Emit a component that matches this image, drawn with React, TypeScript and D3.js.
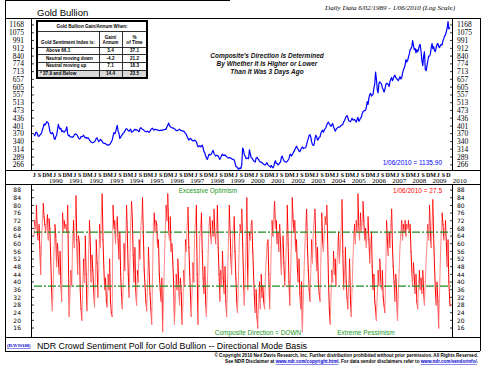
import * as d3 from 'd3'
import React from 'react'

// semi-monthly readings (1st and 16th of each month), Jun 1989 .. Jan 2010
const goldPrice = [
  368, 362, 372, 376, 370, 360, 360, 364, 368, 372, 385, 396, 410, 405,
  410, 420, 418, 414, 400, 380, 372, 370, 375, 368, 352, 348, 358, 364, 385, 408, 395, 388, 392, 378, 382, 378, 376, 380,
  385, 398, 370, 362, 364, 358, 357, 358, 356, 358, 366, 368, 369, 366, 360, 354, 350, 352, 359, 358, 360, 364, 358, 354,
  356, 352, 354, 352, 346, 342, 338, 337, 336, 338, 340, 344, 352, 354, 346, 340, 344, 348, 345, 342, 336, 334, 334, 333,
  330, 328, 329, 328, 330, 334, 340, 346, 360, 374, 370, 376, 390, 404, 380, 372, 352, 356, 362, 366, 372, 374, 380, 388,
  390, 386, 382, 380, 384, 388, 376, 378, 380, 384, 388, 384, 386, 384, 380, 378, 390, 394, 390, 388, 386, 382, 380, 378,
  378, 380, 376, 376, 380, 386, 390, 392, 386, 384, 388, 386, 386, 384, 384, 382, 383, 384, 383, 384, 386, 386, 388, 387,
  398, 404, 414, 404, 398, 396, 394, 392, 392, 390, 386, 382, 382, 384, 386, 388, 384, 382, 382, 380, 380, 376, 370, 368,
  358, 352, 346, 350, 352, 350, 344, 342, 344, 346, 342, 340, 330, 322, 324, 326, 322, 324, 328, 318, 306, 302, 292, 286,
  282, 290, 298, 296, 296, 298, 306, 310, 300, 296, 292, 294, 294, 292, 286, 282, 288, 294, 298, 294, 294, 296, 292, 290,
  288, 286, 288, 286, 286, 284, 282, 282, 280, 272, 262, 260, 258, 254, 256, 258, 256, 268, 318, 312, 296, 292, 284, 286,
  286, 284, 312, 300, 288, 286, 282, 278, 276, 274, 286, 288, 284, 282, 276, 274, 274, 272, 270, 268, 266, 266, 270, 272,
  266, 264, 262, 260, 264, 260, 258, 262, 272, 278, 270, 270, 266, 268, 272, 274, 288, 292, 284, 278, 276, 274, 274, 276,
  280, 284, 296, 298, 292, 296, 302, 306, 312, 318, 324, 318, 314, 308, 306, 312, 318, 322, 316, 318, 318, 320, 330, 342,
  352, 364, 366, 356, 340, 330, 326, 330, 350, 364, 358, 346, 348, 356, 358, 372, 380, 384, 376, 384, 390, 396, 406, 414,
  418, 410, 404, 400, 406, 412, 398, 390, 380, 386, 392, 394, 398, 396, 400, 404, 406, 408, 420, 424, 436, 444, 448, 438,
  424, 422, 420, 428, 436, 428, 428, 430, 424, 418, 430, 440, 422, 426, 436, 440, 456, 468, 470, 472, 474, 490, 520, 504,
  540, 560, 566, 550, 556, 560, 600, 624, 710, 660, 590, 570, 630, 640, 632, 626, 600, 590, 574, 590, 620, 630, 628, 622,
  610, 640, 660, 670, 648, 660, 680, 686, 668, 664, 656, 648, 662, 676, 660, 668, 700, 726, 740, 762, 810, 790, 800, 830,
  860, 900, 910, 930, 990, 940, 900, 910, 870, 900, 880, 900, 940, 950, 880, 800, 760, 840, 880, 730, 720, 760, 800, 840,
  840, 860, 920, 960, 910, 930, 890, 880, 920, 950, 960, 930, 920, 940, 950, 945, 990, 1010, 1040, 1050, 1090, 1130, 1210, 1120,
  1135.9,
]

const sentiment = [
  64, 72, 68, 80, 66, 62, 70, 58, 44, 60, 72, 81, 74, 70,
  66, 72, 75, 62, 73, 68, 52, 36, 25, 40, 58, 70, 64, 48, 60, 52, 44, 56, 40, 30, 76, 66, 72, 68,
  70, 66, 80, 48, 22, 34, 46, 38, 60, 72, 58, 70, 85, 62, 44, 64, 60, 36, 26, 20, 38, 52, 40, 64,
  44, 25, 34, 56, 72, 60, 40, 54, 46, 36, 27, 44, 62, 50, 32, 46, 70, 58, 76, 86, 62, 48, 36, 42,
  30, 27, 44, 36, 52, 30, 24, 22, 80, 68, 72, 60, 70, 74, 62, 52, 66, 44, 34, 26, 38, 60, 46, 62,
  80, 64, 44, 32, 48, 70, 82, 72, 54, 40, 58, 36, 28, 46, 40, 62, 52, 68, 74, 84, 64, 46, 38, 30,
  25, 40, 58, 44, 34, 26, 18, 44, 70, 76, 66, 72, 70, 58, 62, 44, 36, 30, 42, 14, 32, 50, 66, 80,
  72, 86, 68, 62, 74, 56, 60, 50, 40, 18, 30, 44, 36, 52, 40, 28, 42, 34, 18, 28, 46, 38, 62, 56,
  70, 79, 58, 44, 34, 22, 36, 50, 40, 64, 72, 80, 44, 18, 40, 62, 70, 76, 56, 42, 34, 48, 30, 22,
  38, 56, 70, 74, 66, 60, 72, 64, 78, 66, 60, 70, 80, 58, 44, 30, 46, 38, 56, 42, 34, 48, 30, 22,
  40, 62, 80, 66, 54, 44, 60, 68, 74, 56, 42, 30, 24, 40, 62, 70, 66, 78, 60, 44, 28, 42, 60, 84,
  36, 50, 66, 62, 70, 72, 56, 44, 32, 24, 36, 22, 16, 30, 40, 26, 44, 32, 38, 30, 26, 44, 52, 60,
  62, 44, 26, 40, 58, 72, 64, 76, 82, 68, 72, 60, 66, 56, 70, 60, 44, 58, 64, 50, 38, 46, 62, 80,
  60, 40, 28, 46, 62, 84, 72, 66, 72, 56, 62, 48, 40, 52, 34, 26, 40, 14, 30, 46, 60, 72, 78, 58,
  46, 36, 30, 48, 62, 50, 66, 72, 78, 60, 46, 58, 40, 34, 30, 52, 76, 62, 56, 66, 74, 70, 80, 62,
  40, 26, 18, 34, 46, 40, 56, 44, 52, 38, 48, 60, 66, 50, 58, 68, 83, 56, 36, 44, 58, 40, 32, 26,
  40, 52, 30, 22, 36, 50, 64, 70, 60, 72, 66, 86, 70, 62, 76, 66, 70, 82, 72, 62, 68, 58, 66, 74,
  62, 50, 60, 66, 48, 36, 44, 30, 26, 20, 34, 46, 38, 52, 42, 36, 46, 32, 28, 24, 44, 72, 62, 54,
  66, 58, 70, 78, 60, 48, 40, 30, 44, 36, 20, 32, 46, 58, 66, 72, 62, 70, 66, 72, 64, 70, 68, 72,
  66, 70, 56, 46, 38, 50, 42, 34, 44, 30, 26, 38, 46, 36, 42, 34, 46, 36, 28, 40, 52, 60, 70, 62,
  80, 66, 58, 70, 83, 64, 48, 36, 28, 40, 30, 16, 34, 52, 66, 76, 70, 62, 66, 72, 60, 48, 62, 40,
  27.5,
]

const goldTicks = [266, 289, 314, 340, 370, 401, 436, 473, 513, 557, 605, 657, 713, 774, 840, 912, 991, 1075, 1168]
const sentTicks = [16, 20, 24, 28, 32, 36, 40, 44, 48, 52, 56, 60, 64, 68, 72, 76, 80, 84, 88]
const years = [1990, 1991, 1992, 1993, 1994, 1995, 1996, 1997, 1998, 1999, 2000, 2001, 2002, 2003, 2004, 2005, 2006, 2007, 2008, 2009, 2010]
const quarterMonths = [2, 5, 8, 11]
const quarterLetters = ['M', 'J', 'S', 'D']
const upperZone = 66.1
const lowerZone = 37.9

const tableRows = ['Above 66.1', 'Neutral moving down', 'Neutral moving up', '* 37.9 and Below']
const tableGain = ['3.4', '-4.2', '7.1', '14.4']
const tablePct = ['37.1', '21.2', '18.3', '23.5']

const dateAt = (i: number) => (i === goldPrice.length - 1 ? new Date(2010, 0, 6) : new Date(1989, 5 + Math.floor(i / 2), i % 2 ? 16 : 1))

const SANS = 'Liberation Sans, Arial, sans-serif'
const SERIF = 'Liberation Serif, Times New Roman, serif'

export default function App() {
  const x = d3.scaleTime().domain([new Date(1989, 5, 2), new Date(2010, 0, 6)]).range([34, 450])
  const yG = d3.scaleLog().domain([252, 1257]).range([170, 18])
  const yS = d3.scaleLinear().domain([11.3, 91.2]).range([337, 184])

  const goldLine = d3
    .line<number>()
    .x((_, i) => x(dateAt(i)))
    .y(d => yG(d))(goldPrice) as string

  const letters: { x: number; t: string }[] = []
  for (let yr = 1989; yr <= 2009; yr++) {
    quarterMonths.forEach((m, k) => {
      const d = new Date(yr, m, 8)
      if (d >= new Date(1989, 5, 1) && d <= new Date(2010, 0, 6)) letters.push({ x: x(d), t: quarterLetters[k] })
    })
  }

  const hl = (y: number, w = 1) => <line x1={5} x2={480} y1={y} y2={y} stroke="#000" strokeWidth={w} />

  const tx = [37, 99, 122, 147]
  const ty = [21, 31, 47, 54.5, 62, 70, 78]

  return (
    <div style={{ position: 'fixed', left: 0, top: 0 }}>
      <svg width={490} height={370} style={{ display: 'block', background: '#fff' }}>
        <rect width={490} height={370} fill="#fff" />
        {/* frame */}
        <g shapeRendering="crispEdges">
          <line x1={5} x2={230} y1={0.5} y2={0.5} stroke="#000" />
          <line x1={5.5} x2={5.5} y1={0} y2={351} stroke="#000" />
          <line x1={480.5} x2={480.5} y1={18} y2={351} stroke="#000" />
          {hl(18.5)}
          {hl(170.5, 1.5)}
          {hl(184.5)}
          {hl(337.5)}
          {hl(351)}
          <line x1={31.5} x2={31.5} y1={18} y2={170} stroke="#000" />
          <line x1={452.5} x2={452.5} y1={18} y2={170} stroke="#000" />
          <line x1={31.5} x2={31.5} y1={184} y2={337} stroke="#000" />
          <line x1={452.5} x2={452.5} y1={184} y2={337} stroke="#000" />
        </g>

        <text x={37} y={15.5} fontFamily={SANS} fontSize={9.5} fill="#000">Gold Bullion</text>
        <text x={455} y={10} fontFamily={SERIF} fontSize={7} fontStyle="italic" textAnchor="end">
          Daily Data 6/02/1989 - 1/06/2010 (Log Scale)
        </text>

        {/* upper axis */}
        {goldTicks.map(t => (
          <g key={'g' + t}>
            <line x1={31} x2={34} y1={yG(t)} y2={yG(t)} stroke="#000" strokeWidth={0.8} />
            <line x1={450} x2={453} y1={yG(t)} y2={yG(t)} stroke="#000" strokeWidth={0.8} />
            <text x={24} y={yG(t) + 2.5} fontFamily={SERIF} fontSize={7.5} textAnchor="end">{t}</text>
            <text x={457} y={yG(t) + 2.5} fontFamily={SERIF} fontSize={7.5}>{t}</text>
          </g>
        ))}

        <path d={goldLine} fill="none" stroke="#0000ff" strokeWidth={1.2} strokeLinejoin="round" />

        <g fontFamily={SANS} fontSize={6.5} fontStyle="italic" fontWeight="bold" textAnchor="middle" fill="#111">
          <text x={267} y={58}>Composite's Direction Is Determined</text>
          <text x={267} y={66}>By Whether It Is Higher or Lower</text>
          <text x={267} y={74}>Than It Was 3 Days Ago</text>
        </g>

        <text x={442} y={165} fontFamily={SANS} fontSize={6.5} fill="#0000ff" textAnchor="end">1/06/2010 = 1135.90</text>

        {/* table */}
        <rect x={tx[0]} y={ty[5]} width={tx[3] - tx[0]} height={ty[6] - ty[5]} fill="#d9d9d9" />
        <g stroke="#000" fill="none" shapeRendering="crispEdges">
          <rect x={tx[0]} y={ty[0]} width={tx[3] - tx[0]} height={ty[6] - ty[0]} strokeWidth={1.3} />
          {ty.slice(1, 6).map(v => <line key={'r' + v} x1={tx[0]} x2={tx[3]} y1={v} y2={v} strokeWidth={0.8} />)}
          {[tx[1], tx[2]].map(v => <line key={'c' + v} x1={v} x2={v} y1={ty[1]} y2={ty[6]} strokeWidth={0.8} />)}
        </g>
        <g fontFamily={SANS} fontSize={4.6} fontWeight="bold" fill="#000">
          <text x={92} y={27.5} textAnchor="middle">Gold Bullion Gain/Annum When:</text>
          <text x={68} y={44} textAnchor="middle">Gold Sentiment Index is:</text>
          <text x={110.5} y={38.5} textAnchor="middle">Gain/</text>
          <text x={110.5} y={44} textAnchor="middle">Annum</text>
          <text x={134.5} y={38.5} textAnchor="middle">%</text>
          <text x={134.5} y={44} textAnchor="middle">of Time</text>
          {tableRows.map((r, i) => (
            <g key={r}>
              <text x={i === 3 ? 40 : 46} y={ty[i + 2] + 5.2}>{r}</text>
              <text x={110.5} y={ty[i + 2] + 5.2} textAnchor="middle">{tableGain[i]}</text>
              <text x={134.5} y={ty[i + 2] + 5.2} textAnchor="middle">{tablePct[i]}</text>
            </g>
          ))}
        </g>

        {/* time axis labels */}
        <g fontFamily={SERIF} fontWeight="bold" fontSize={6} textAnchor="middle">
          {letters.map((l, i) => <text key={'m' + i} x={l.x} y={176.5}>{l.t}</text>)}
        </g>
        <g fontFamily={SERIF} fontSize={7} textAnchor="middle">
          {years.map(yr => <text key={yr} x={x(new Date(yr, 6, 1))} y={182.5}>{yr}</text>)}
        </g>

        {/* lower panel */}
        {sentTicks.map(t => (
          <g key={'s' + t}>
            <line x1={31} x2={34} y1={yS(t)} y2={yS(t)} stroke="#000" strokeWidth={0.8} />
            <line x1={450} x2={453} y1={yS(t)} y2={yS(t)} stroke="#000" strokeWidth={0.8} />
            <text x={21} y={yS(t) + 2.2} fontFamily="DejaVu Sans, sans-serif" fontSize={6} textAnchor="end">{t}</text>
            <text x={457} y={yS(t) + 2.2} fontFamily="DejaVu Sans, sans-serif" fontSize={6}>{t}</text>
          </g>
        ))}

        <g strokeWidth={1} strokeLinecap="round">
          {sentiment.slice(1).map((v, i) => {
            const prev = sentiment[i]
            return (
              <line
                key={'l' + i}
                x1={x(dateAt(i))}
                y1={yS(prev)}
                x2={x(dateAt(i + 1))}
                y2={yS(v)}
                stroke={v < prev ? '#ff0000' : '#ff8a8a'}
              />
            )
          })}
        </g>

        {[upperZone, lowerZone].map(z => (
          <line key={'z' + z} x1={34} x2={451} y1={yS(z)} y2={yS(z)} stroke="#1e8c1e" strokeWidth={1.2} strokeDasharray="8,2,2,2" />
        ))}

        <g fontFamily={SANS} fontSize={6.5} fill="#1a9a1a">
          <text x={208} y={192.5} textAnchor="middle">Excessive Optimism</text>
          <text x={258} y={334.5} textAnchor="middle">Composite Direction = DOWN</text>
          <text x={366} y={334.5} textAnchor="middle">Extreme Pessimism</text>
        </g>
        <text x={442} y={192.5} fontFamily={SANS} fontSize={6.5} fill="#ff0000" textAnchor="end">1/06/2010 = 27.5</text>

        {/* footer */}
        <text x={7} y={347} fontFamily={SERIF} fontSize={4.6} fontWeight="bold" fill="#0000cc" textDecoration="underline">(DAVIS188)</text>
        <text x={37} y={348.5} fontFamily={SANS} fontSize={8.5} textLength={270} lengthAdjust="spacingAndGlyphs">
          NDR Crowd Sentiment Poll for Gold Bullion -- Directional Mode Basis
        </text>
        <g fontFamily={SANS} fontSize={4.6} fontWeight="bold" textAnchor="end">
          <text x={478} y={357}>© Copyright 2010 Ned Davis Research, Inc.  Further distribution prohibited without prior permission.  All Rights Reserved.</text>
          <text x={478} y={363}>
            See NDR Disclaimer at <tspan fill="#0000cc" textDecoration="underline">www.ndr.com/copyright.html</tspan>. For data vendor disclaimers refer to{' '}
            <tspan fill="#0000cc" textDecoration="underline">www.ndr.com/vendorinfo/</tspan>.
          </text>
        </g>
      </svg>
    </div>
  )
}
